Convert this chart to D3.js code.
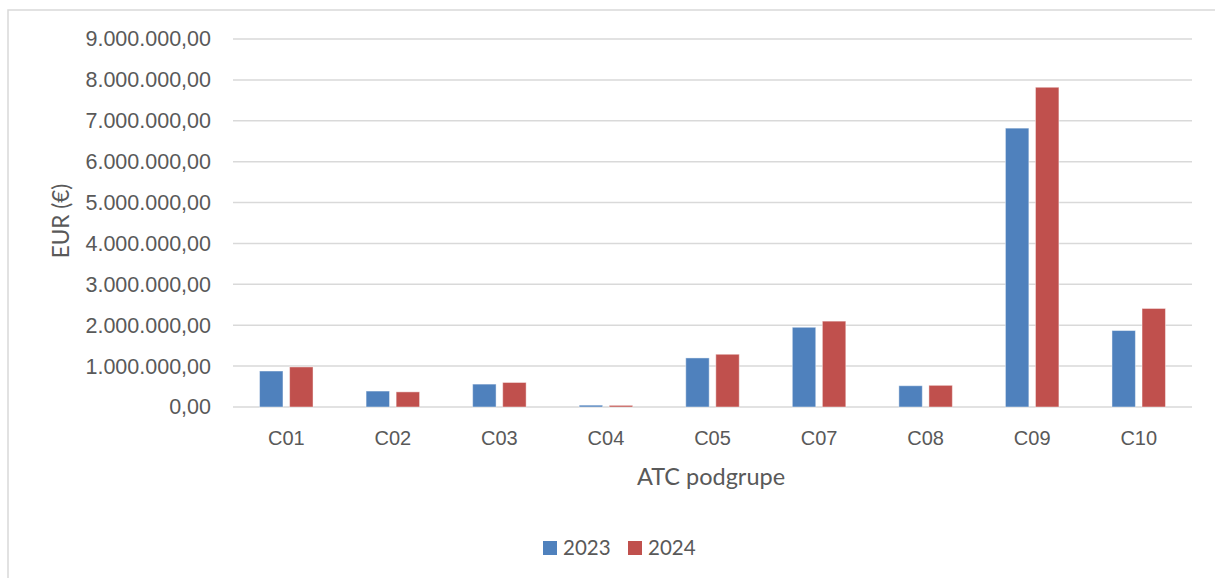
<!DOCTYPE html>
<html>
<head>
<meta charset="utf-8">
<script src="https://cdn.jsdelivr.net/npm/d3@7"></script>
<style>
  body { margin: 0; background: #fff; }
  svg { display: block; font-family: Lato, "Open Sans", sans-serif; }
</style>
</head>
<body>
<svg id="chart" width="1215" height="578"></svg>
<script>
const categories = ["C01", "C02", "C03", "C04", "C05", "C07", "C08", "C09", "C10"];
const series = ["2023", "2024"];
const values2023 = [880000, 390000, 560000, 45000, 1200000, 1950000, 520000, 6820000, 1870000];
const values2024 = [980000, 370000, 600000, 40000, 1290000, 2100000, 530000, 7820000, 2410000];
const yTicks = [0, 1000000, 2000000, 3000000, 4000000, 5000000, 6000000, 7000000, 8000000, 9000000];
const colors = ["#4F81BD", "#C0504D"];

const svg = d3.select("#chart");
const plot = { left: 233, right: 1192, top: 39, bottom: 407 };
const textColor = "#595959";

// chart frame (only top and left edges are visible in the crop)
svg.append("path")
  .attr("d", "M8,1215 V10 H1215")
  .attr("fill", "none")
  .attr("stroke", "#d9d9d9")
  .attr("stroke-width", 1.5);

const x0 = d3.scaleBand()
  .domain(categories)
  .range([plot.left, plot.right])
  .padding(0);

const bw = x0.bandwidth();
const x1 = d3.scaleBand()
  .domain(series)
  .range([bw * 0.249, bw * 0.751])
  .paddingInner(0.22)
  .paddingOuter(0);

const y = d3.scaleLinear()
  .domain([0, 9000000])
  .range([plot.bottom, plot.top]);

const fmt = d3.formatLocale({ decimal: ",", thousands: ".", grouping: [3], currency: ["", " €"] }).format(",.2f");

// gridlines
svg.append("g")
  .selectAll("line")
  .data(yTicks)
  .enter()
  .append("line")
  .attr("x1", plot.left)
  .attr("x2", plot.right)
  .attr("y1", d => y(d))
  .attr("y2", d => y(d))
  .attr("stroke", "#d9d9d9")
  .attr("stroke-width", 1.5);

// y axis labels
const yAxis = svg.append("g")
  .attr("transform", "translate(" + (plot.left - 22) + ",0)")
  .call(d3.axisLeft(y).tickValues(yTicks).tickFormat(fmt).tickSize(0).tickPadding(0));
yAxis.select(".domain").remove();
yAxis.selectAll("text")
  .attr("fill", textColor)
  .style("font-size", "21.5px");

// bars
const rows = categories.map((c, i) => ({ cat: c, vals: [values2023[i], values2024[i]] }));
svg.append("g")
  .selectAll("g")
  .data(rows)
  .enter()
  .append("g")
  .attr("transform", d => "translate(" + x0(d.cat) + ",0)")
  .selectAll("rect")
  .data(d => d.vals.map((v, j) => ({ key: series[j], v: v, j: j })))
  .enter()
  .append("rect")
  .attr("x", d => x1(d.key))
  .attr("y", d => y(d.v))
  .attr("width", x1.bandwidth())
  .attr("height", d => y(0) - y(d.v))
  .attr("fill", d => colors[d.j])
  .attr("stroke", "rgba(255,255,255,0.45)")
  .attr("stroke-width", 1);

// x axis labels
const xAxis = svg.append("g")
  .attr("transform", "translate(0," + plot.bottom + ")")
  .call(d3.axisBottom(x0).tickSize(0).tickPadding(24));
xAxis.select(".domain").remove();
xAxis.selectAll("text")
  .attr("fill", textColor)
  .style("font-size", "20px");

// axis titles
svg.append("text")
  .attr("x", 711)
  .attr("y", 485)
  .attr("text-anchor", "middle")
  .attr("fill", textColor)
  .style("font-size", "23.5px")
  .text("ATC podgrupe");

svg.append("text")
  .attr("transform", "translate(69,221) rotate(-90)")
  .attr("text-anchor", "middle")
  .attr("fill", textColor)
  .style("font-size", "22.5px")
  .text("EUR (€)");

// legend
const legend = svg.append("g");
const legendX = [543, 628];
series.forEach((s, i) => {
  legend.append("rect")
    .attr("x", legendX[i])
    .attr("y", 541)
    .attr("width", 14)
    .attr("height", 14)
    .attr("fill", colors[i]);
  legend.append("text")
    .attr("x", legendX[i] + 20)
    .attr("y", 555)
    .attr("fill", textColor)
    .style("font-size", "20.5px")
    .text(s);
});
</script>
</body>
</html>
